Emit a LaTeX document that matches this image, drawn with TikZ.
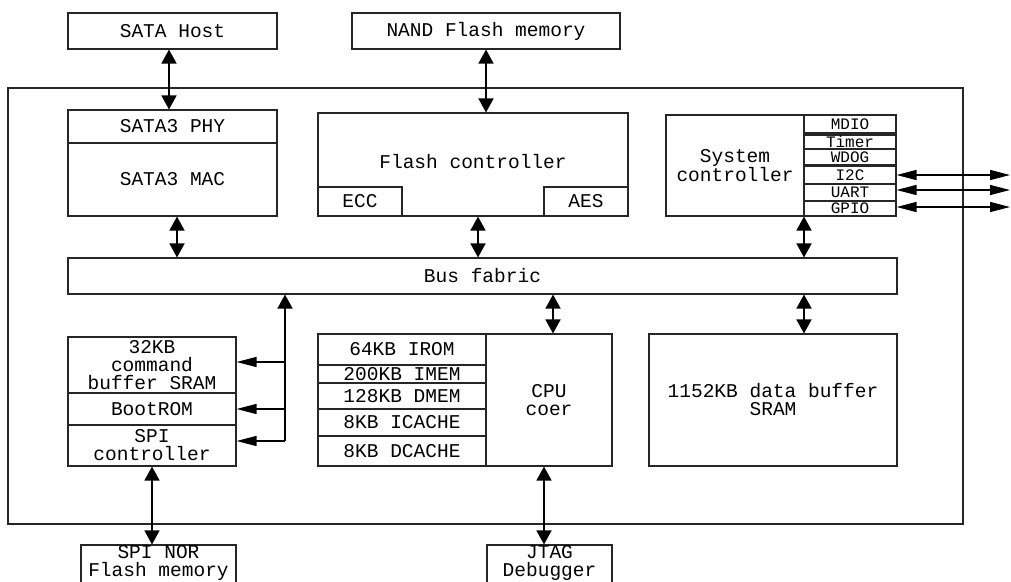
\documentclass[tikz,border=0pt]{standalone}
\usepackage{fontspec}
\setmainfont{Liberation Mono}
\usetikzlibrary{arrows.meta,calc}
\newcommand\blk[7][]{\node[box,#1,minimum width={(#5)-(#3)},minimum height={(#6)-(#4)}] (#2) at ({((#3)+(#5))/2},{((#4)+(#6))/2}) {#7};}
\begin{document}
\begin{tikzpicture}[x=1pt,y=-1pt,
  box/.style={draw=black!85, line width=1.1pt, inner sep=0pt, align=center, font=\fontsize{19.5}{18}\selectfont},
  side/.style={font=\fontsize{16}{16}\selectfont},
  lbl/.style={inner sep=0pt, align=center, font=\fontsize{19.5}{18}\selectfont},
  vv/.style={line width=1.6pt, {Triangle[length=14pt,width=15pt]}-{Triangle[length=14pt,width=15pt]}},
  hh/.style={line width=1.3pt, {Triangle[length=20pt,width=10pt]}-{Triangle[length=20pt,width=10pt]}},
  hone/.style={line width=1.3pt, -{Triangle[length=20pt,width=10pt]}},
  vone/.style={line width=1.6pt, -{Triangle[length=14pt,width=15pt]}},
]
\clip (0,0) rectangle (1011,581);
\fill[white] (0,0) rectangle (1011,581);
% outer chip
\blk{chip}{8}{88}{963}{524}{}
% external
\blk{host}{68}{13}{277}{49}{SATA Host}
\blk{nand}{352}{13}{620}{49}{NAND Flash memory}
% top row
\blk{phy}{68}{110}{277}{143}{SATA3 PHY}
\blk{mac}{68}{143}{277}{216}{SATA3 MAC}
\blk{flash}{318}{113}{628}{216}{}
\node[lbl] (flasht) at (473,162) {Flash controller};
\blk{ecc}{318}{187}{402}{216}{ECC}
\blk{aes}{544}{187}{628}{216}{AES}
\blk{sysc}{666}{115}{804}{216}{System\\controller}
\blk[side]{mdio}{804}{115}{896}{133}{MDIO}
\blk[side]{timer}{804}{135}{896}{149}{Timer}
\blk[side]{wdog}{804}{149}{896}{165}{WDOG}
\blk[side]{i2c}{804}{166}{896}{184}{I2C}
\blk[side]{uart}{804}{184}{896}{201}{UART}
\blk[side]{gpio}{804}{201}{896}{216}{GPIO}
% bus
\blk{bus}{68}{258}{897}{294}{Bus fabric}
% bottom row
\blk{cmd}{68}{337}{236}{393}{32KB\\command\\buffer SRAM}
\blk{boot}{68}{393}{236}{425}{BootROM}
\blk{spi}{68}{425}{236}{466}{SPI\\controller}
\blk{irom}{318}{334}{486}{365}{64KB IROM}
\blk{imem}{318}{365}{486}{383}{200KB IMEM}
\blk{dmem}{318}{383}{486}{409}{128KB DMEM}
\blk{icache}{318}{409}{486}{436}{8KB ICACHE}
\blk{dcache}{318}{436}{486}{466}{8KB DCACHE}
\blk{cpu}{486}{334}{612}{466}{CPU\\coer}
\blk{sram}{649}{334}{897}{466}{1152KB data buffer\\SRAM}
% external bottom
\blk{spinor}{81}{545}{236}{600}{}
\node[lbl] (spinort) at (158.5,563) {SPI NOR\\Flash memory};
\blk{jtag}{487}{545}{612}{600}{}
\node[lbl] (jtagt) at (549.5,563) {JTAG\\Debugger};
% helper coordinates
\coordinate (xhost) at (169,0);
\coordinate (xnand) at (486,0);
\coordinate (xmac) at (177,0);
\coordinate (xflash) at (478,0);
\coordinate (xsys) at (804,0);
\coordinate (xcpu) at (553,0);
\coordinate (xspi) at (152,0);
\coordinate (xjtag) at (544,0);
\coordinate (j) at (285,441);
\coordinate (ycmd) at (0,362);
\coordinate (yboot) at (0,409);
\coordinate (eI) at (1010,175);
\coordinate (eU) at (1010,190);
\coordinate (eG) at (1010,207);
% connectors
\draw[vv] (host.south -| xhost) -- (phy.north -| xhost);
\draw[vv] (nand.south -| xnand) -- (flash.north -| xnand);
\draw[vv] (mac.south -| xmac) -- (bus.north -| xmac);
\draw[vv] (flash.south -| xflash) -- (bus.north -| xflash);
\draw[vv] (sysc.south -| xsys) -- (bus.north -| xsys);
\draw[vv] (bus.south -| xcpu) -- (cpu.north -| xcpu);
\draw[vv] (bus.south -| xsys) -- (sram.north -| xsys);
\draw[vv] (spi.south -| xspi) -- (spinor.north -| xspi);
\draw[vv] (cpu.south -| xjtag) -- (jtag.north -| xjtag);
\draw[hh] (i2c.east |- eI) -- (eI);
\draw[hh] (uart.east |- eU) -- (eU);
\draw[hh] (gpio.east |- eG) -- (eG);
\draw[vone] (j) -- (j |- bus.south);
\draw[hone] (j) -- (spi.east |- j);
\draw[hone] (j |- ycmd) -- (cmd.east |- ycmd);
\draw[hone] (j |- yboot) -- (boot.east |- yboot);
\end{tikzpicture}
\end{document}
